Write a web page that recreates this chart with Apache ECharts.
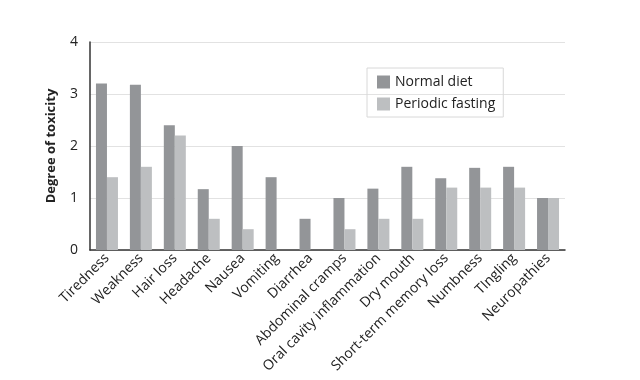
<!DOCTYPE html>
<html><head><meta charset="utf-8">
<script src="https://cdn.jsdelivr.net/npm/echarts@6/dist/echarts.min.js"></script>
<style>html,body{margin:0;padding:0;background:#fff}#c{width:640px;height:380px}</style>
</head><body><div id="c"></div>
<script>
const categories = ["Tiredness","Weakness","Hair loss","Headache","Nausea","Vomiting","Diarrhea","Abdominal cramps","Oral cavity inflammation","Dry mouth","Short-term memory loss","Numbness","TIngling","Neuropathies"];
const normalDiet = [3.2,3.18,2.4,1.17,2.0,1.4,0.6,1.0,1.18,1.6,1.38,1.58,1.6,1.0];
const periodicFasting = [1.4,1.6,2.2,0.6,0.4,0,0,0.4,0.6,0.6,1.2,1.2,1.2,1.0];
const yTicks = [0,1,2,3,4];
const font = "Open Sans";
const chart = echarts.init(document.getElementById('c'));
chart.setOption({
  animation:false,
  textStyle:{fontFamily:font},
  grid:{left:90,right:75,top:42,bottom:130},
  legend:{
    data:["Normal diet","Periodic fasting"],
    orient:'vertical', left:367, top:68,
    itemWidth:13,itemHeight:13,itemGap:8,
    padding:[7,8,6,10],
    borderColor:'#d8d8d8',borderWidth:1,
    textStyle:{fontFamily:font,fontSize:14,color:'#222'},
    icon:'rect'
  },
  xAxis:{
    type:'category',data:categories,
    axisLine:{lineStyle:{color:'#333',width:1.5}},
    axisTick:{show:false},
    axisLabel:{rotate:45,fontSize:14,color:'#222',margin:6,interval:0,fontFamily:font}
  },
  yAxis:{
    type:'value',min:0,max:4,interval:1,
    name:'Degree of toxicity',nameLocation:'middle',nameGap:32,
    nameTextStyle:{fontFamily:font,fontSize:13,fontWeight:'bold',color:'#222'},
    axisLine:{show:true,lineStyle:{color:'#333',width:1.5}},
    axisTick:{show:false},
    axisLabel:{fontSize:14,color:'#222',margin:12,fontFamily:font,formatter:v=>yTicks.includes(v)?String(v):''},
    splitLine:{lineStyle:{color:'#e2e2e2'}}
  },
  series:[
    {name:'Normal diet',type:'bar',data:normalDiet,barWidth:11,barGap:'0%',itemStyle:{color:'#939598'}},
    {name:'Periodic fasting',type:'bar',data:periodicFasting,barWidth:11,itemStyle:{color:'#bdbfc1'}}
  ]
});
</script></body></html>
